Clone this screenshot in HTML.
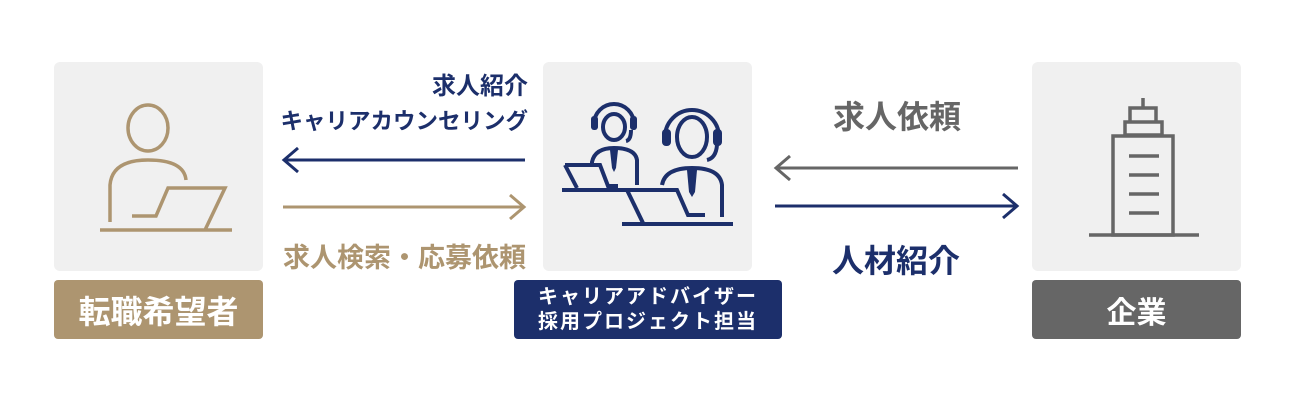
<!DOCTYPE html>
<html><head><meta charset="utf-8"><style>
body{margin:0;background:#fff;}
.w{position:relative;width:1294px;height:402px;overflow:hidden;font-family:"Liberation Sans","Noto Sans CJK JP",sans-serif;font-weight:bold;}
.box{position:absolute;background:#f0f0f0;border-radius:6px;}
.lab{position:absolute;border-radius:4px;color:#fff;display:flex;align-items:center;justify-content:center;text-align:center;}
.t{position:absolute;white-space:nowrap;}
svg{position:absolute;left:0;top:0;}
</style></head><body><div class="w">
<div class="box" style="left:54px;top:62px;width:209px;height:209px"></div>
<div class="box" style="left:543px;top:62px;width:209px;height:209px"></div>
<div class="box" style="left:1032px;top:62px;width:209px;height:209px"></div>
<div class="lab" style="left:54px;top:280px;width:209px;height:59px;background:#ad9570;font-size:32px">転職希望者</div>
<div class="lab" style="left:514px;top:280px;width:268px;height:59px;background:#1c2f6b;font-size:20px;line-height:25px;letter-spacing:2px">キャリアアドバイザー<br>採用プロジェクト担当</div>
<div class="lab" style="left:1032px;top:280px;width:209px;height:59px;background:#666;font-size:30px">企業</div>
<div class="t" style="right:766px;top:66px;font-size:24px;color:#1c2f6b;text-align:right">求人紹介</div>
<div class="t" style="right:766px;top:104px;font-size:22.5px;color:#1c2f6b;text-align:right">キャリアカウンセリング</div>
<div class="t" style="left:283px;top:236px;font-size:27px;color:#ad9570">求人検索・応募依頼</div>
<div class="t" style="left:833px;top:92px;font-size:32px;color:#666">求人依頼</div>
<div class="t" style="left:832px;top:236px;font-size:32px;color:#1c2f6b">人材紹介</div>
<svg width="1294" height="402" fill="none" stroke-width="3">
<g stroke="#1c2f6b"><path d="M525 160H285M298 148L284 160L298 172"/></g>
<g stroke="#ad9570"><path d="M283 207H523M510 195L524 207L510 219"/></g>
<g stroke="#666"><path d="M1018 168H777M790 156L776 168L790 180"/></g>
<g stroke="#1c2f6b"><path d="M775 206H1016M1003 194L1017 206L1003 218"/></g>
<g stroke="#ad9570" stroke-width="3.5">
<ellipse cx="148" cy="128" rx="20" ry="23"/>
<path d="M110 222V185Q112 160 148 160Q184 160 186 180"/>
<path d="M100 230H232M132 216H156L168 188H225L205 230"/>
</g>
<g stroke="#1c2f6b" stroke-width="4">
<ellipse cx="614" cy="127" rx="11" ry="13"/>
<path d="M594 124A20 20 0 0 1 634 124"/>
<path d="M631 130Q631 140 626 141"/>
<path d="M592 165V162Q595 148 614 148Q635 148 637 160V185"/>
<path d="M562 190H677M565 165H600L608 186H618M565 165L577 188"/>
<ellipse cx="692" cy="137" rx="15" ry="20"/>
<path d="M665 137A27 27 0 0 1 719 137"/>
<path d="M717 145Q716 158 707 160"/>
<path d="M662 185Q665 168 692 168Q720 168 722 185V217"/>
<path d="M622 224H733M627 190H677L688 215H705M627 190L643 223"/>
</g>
<g fill="#1c2f6b">
<rect x="591" y="116" width="7" height="14" rx="3"/><rect x="630" y="116" width="7" height="14" rx="3"/>
<rect x="662" y="129" width="9" height="17" rx="4"/><rect x="713" y="129" width="9" height="17" rx="4"/>
<path d="M610 150H618L616 168L614 172L612 168Z"/>
<path d="M687 170H697L695 192L692 197L689 192Z"/>
</g>
<g stroke="#666" stroke-width="3.5">
<path d="M1143 98V108M1130 108H1156V122H1130ZM1125 122H1162V135H1125ZM1113 136H1173V235H1113Z"/>
<path d="M1129 156H1159M1129 175H1159M1129 194H1159M1129 213H1159M1089 235H1199"/>
</g>
</svg>
</div></body></html>
